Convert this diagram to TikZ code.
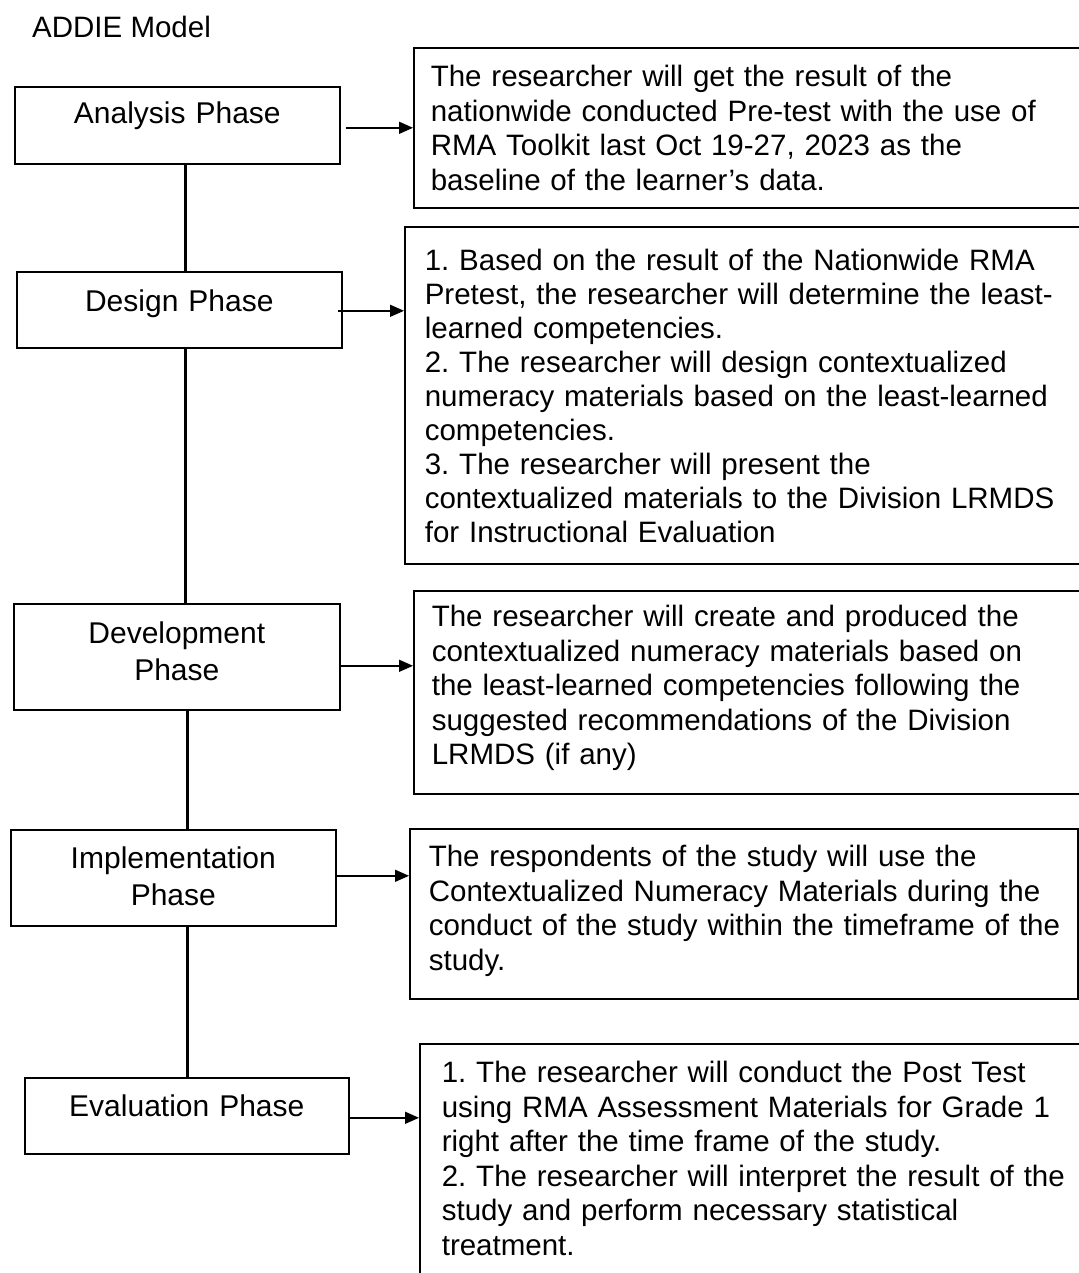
\documentclass[tikz,border=0pt]{standalone}
\usepackage{fontspec}
\setmainfont{Liberation Sans}
\usetikzlibrary{arrows.meta}
\frenchspacing

\begin{document}
\begin{tikzpicture}[
  x=1pt, y=-1pt,
  phase/.style={draw, line width=1.6pt, anchor=north west, align=center, inner sep=0pt, font=\fontsize{30}{36.5}\selectfont},
  task/.style={draw, line width=1.6pt, anchor=north west, align=left, inner ysep=0pt, text width=680pt, font=\fontsize{29.5}{34.5}\selectfont},
  link/.style={line width=3pt},
  arrow/.style={-{Triangle[length=14pt, width=12pt]}, line width=1.5pt}
]
\path[use as bounding box, fill=white] (0,0) rectangle (1078,1273);

\node[anchor=base west, inner sep=0pt, font=\fontsize{29.5}{34}\selectfont] (title) at (32,38) {ADDIE Model};

% phases on the left
\node[phase, text width=325pt, text height=37pt, text depth=40pt] (analysis) at (14,86) {Analysis Phase};
\node[phase, text width=325pt, text height=40pt, text depth=36pt] (design) at (16,271) {Design Phase};
\node[phase, text width=326pt, text height=40pt, text depth=66pt] (development) at (13,603) {Development\\Phase};
\node[phase, text width=325pt, text height=39pt, text depth=57pt] (implementation) at (10,829) {Implementation\\Phase};
\node[phase, text width=324pt, text height=39pt, text depth=37pt] (evaluation) at (24,1077) {Evaluation Phase};

% what happens in each phase
\node[task, inner xsep=17pt, text height=39pt, text depth=121pt] (analysisTask) at (413,47)
  {The researcher will get the result of the\\nationwide conducted Pre-test with the use of\\RMA Toolkit last Oct 19-27, 2023 as the\\baseline of the learner’s data.};
\node[task, inner xsep=20pt, text height=44pt, text depth=293pt, font=\fontsize{29.5}{34}\selectfont] (designTask) at (404,226)
  {1. Based on the result of the Nationwide RMA\\Pretest, the researcher will determine the least-\\learned competencies.\\2. The researcher will design contextualized\\numeracy materials based on the least-learned\\competencies.\\3. The researcher will present the\\contextualized materials to the Division LRMDS\\for Instructional Evaluation};
\node[task, inner xsep=18pt, text height=36pt, text depth=167pt] (developmentTask) at (413,590)
  {The researcher will create and produced the\\contextualized numeracy materials based on\\the least-learned competencies following the\\suggested recommendations of the Division\\LRMDS (if any)};
\node[task, inner xsep=19pt, text width=630pt, text height=38pt, text depth=132pt] (implementationTask) at (409,828)
  {\mbox{The respondents of the study will use the}\\\mbox{Contextualized Numeracy Materials during the}\\\mbox{conduct of the study within the timeframe of the}\\study.};
\node[task, inner xsep=22pt, text height=39pt, text depth=250pt] (evaluationTask) at (419,1043)
  {1. The researcher will conduct the Post Test\\using RMA Assessment Materials for Grade 1\\right after the time frame of the study.\\2. The researcher will interpret the result of the\\study and perform necessary statistical\\treatment.};

% spine
\coordinate (spineA) at (185,0);
\coordinate (spineB) at (187,0);
\draw[link] (analysis.south -| spineA) -- (design.north -| spineA);
\draw[link] (design.south -| spineA) -- (development.north -| spineA);
\draw[link] (development.south -| spineB) -- (implementation.north -| spineB);
\draw[link] (implementation.south -| spineB) -- (evaluation.north -| spineB);

% arrows to the tasks
\draw[arrow] ([xshift=5pt, yshift=-2.5pt]analysis.east) -- ([yshift=-2.5pt]analysis.east -| analysisTask.west);
\draw[arrow] ([xshift=-5pt, yshift=-1pt]design.east) -- ([yshift=-1pt]design.east -| designTask.west);
\draw[arrow] ([yshift=-9pt]development.east) -- ([yshift=-9pt]development.east -| developmentTask.west);
\draw[arrow] ([yshift=2pt]implementation.east) -- ([yshift=2pt]implementation.east -| implementationTask.west);
\draw[arrow] ([yshift=-2pt]evaluation.east) -- ([yshift=-2pt]evaluation.east -| evaluationTask.west);
\end{tikzpicture}
\end{document}
